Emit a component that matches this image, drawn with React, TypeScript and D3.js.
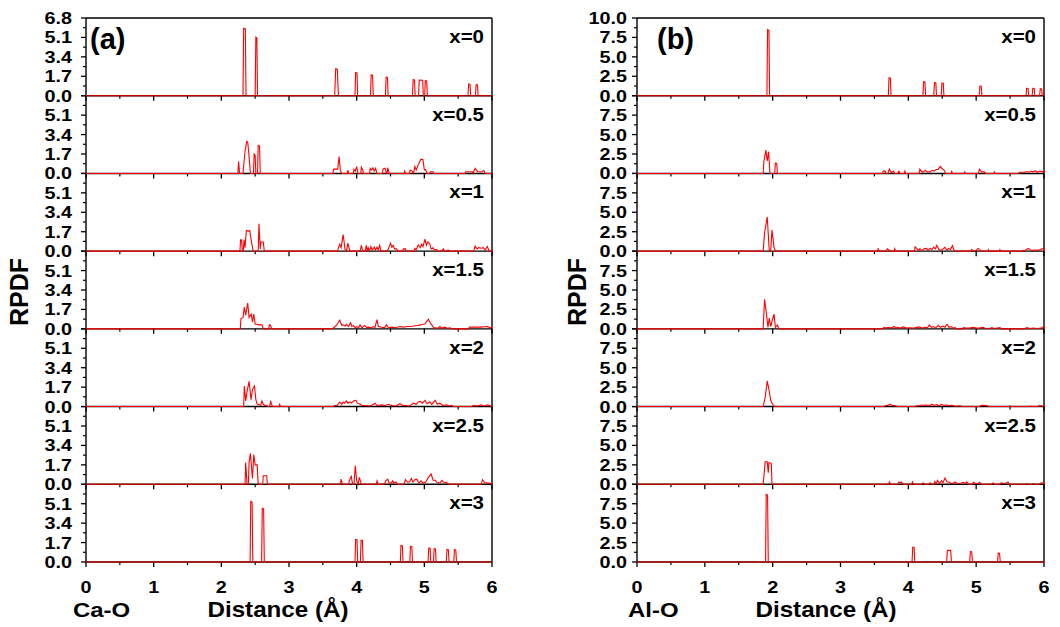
import React from "react";
import * as d3 from "d3";

type P = [number, number];

const compositions = ["x=0", "x=0.5", "x=1", "x=1.5", "x=2", "x=2.5", "x=3"];
const xTicks = [0, 1, 2, 3, 4, 5, 6];
const xMinorTicks = [0.5, 1.5, 2.5, 3.5, 4.5, 5.5];
const caTicks = [0, 1.7, 3.4, 5.1, 6.8];
const alTicks = [0, 2.5, 5.0, 7.5, 10.0];

// Ca-O RPDF
const caO_0: P[] = [
  [2.32, 0], [2.33, 5.9], [2.355, 5.85], [2.365, 0],
  [2.5, 0], [2.51, 5.12], [2.525, 5.05], [2.535, 0],
  [3.675, 0], [3.69, 2.35], [3.715, 2.3], [3.73, 0],
  [3.975, 0], [3.985, 2.03], [4.005, 2.0], [4.015, 0],
  [4.205, 0], [4.215, 1.83], [4.235, 1.8], [4.245, 0],
  [4.425, 0], [4.435, 1.63], [4.455, 1.6], [4.465, 0],
  [4.825, 0], [4.835, 1.4], [4.855, 1.38], [4.865, 0],
  [4.915, 0], [4.925, 1.37], [4.975, 1.35], [4.985, 0],
  [5.005, 0], [5.015, 1.31], [5.035, 1.29], [5.045, 0],
  [5.645, 0], [5.655, 1.02], [5.675, 1.0], [5.685, 0],
  [5.755, 0], [5.765, 0.96], [5.785, 0.94], [5.795, 0],
];
const caO_05: P[] = [
  [2.245, 0], [2.255, 1.05], [2.27, 0],
  [2.32, 0], [2.335, 1.0], [2.35, 1.9], [2.375, 2.8], [2.39, 2.75], [2.405, 1.8], [2.43, 0],
  [2.475, 0], [2.485, 1.7], [2.5, 1.6], [2.51, 0],
  [2.535, 0], [2.545, 2.45], [2.565, 2.4], [2.575, 0],
  [3.65, 0], [3.66, 0.38], [3.72, 0.38], [3.74, 1.48], [3.76, 0.2], [3.78, 0],
  [3.86, 0], [3.87, 0.3], [3.88, 0],
  [3.95, 0], [3.96, 0.35], [3.98, 0.2], [4.0, 0.6], [4.02, 0],
  [4.06, 0], [4.07, 0.55], [4.09, 0.3], [4.1, 0],
  [4.19, 0], [4.2, 0.45], [4.22, 0.3], [4.24, 0.5], [4.26, 0.2], [4.28, 0.45], [4.3, 0],
  [4.38, 0], [4.39, 0.4], [4.42, 0.45], [4.44, 0], [4.45, 0], [4.46, 0.5], [4.48, 0],
  [4.7, 0], [4.71, 0.2], [4.72, 0],
  [4.78, 0], [4.79, 0.3], [4.82, 0.2], [4.84, 0], [4.86, 0.6], [4.88, 0.3], [4.92, 0.9], [4.95, 1.25], [4.98, 1.2], [5.0, 0.3], [5.02, 0.35], [5.04, 0],
  [5.08, 0], [5.09, 0.15], [5.13, 0.15], [5.14, 0],
  [5.6, 0], [5.61, 0.15], [5.71, 0.15], [5.72, 0], [5.75, 0.45], [5.79, 0.15], [5.85, 0.15], [5.88, 0.25], [5.9, 0],
];
const caO_1: P[] = [
  [2.275, 0], [2.285, 1.0], [2.3, 1.0], [2.31, 0], [2.325, 0], [2.335, 1.0], [2.35, 0.3], [2.37, 1.8], [2.4, 1.75], [2.42, 1.8], [2.44, 1.0], [2.47, 0],
  [2.545, 0], [2.556, 2.4], [2.575, 0.2], [2.585, 0.8], [2.62, 0.8], [2.635, 0],
  [3.72, 0], [3.73, 0.3], [3.75, 0.6], [3.77, 0.3], [3.8, 1.45], [3.83, 0.1], [3.85, 0], [3.87, 0.7], [3.9, 0],
  [4.05, 0], [4.07, 0.5], [4.09, 0], [4.13, 0], [4.14, 0.5], [4.16, 0], [4.17, 0.3], [4.19, 0], [4.21, 0.4], [4.23, 0.1], [4.26, 0.35], [4.28, 0.1], [4.3, 0.35], [4.32, 0.1], [4.34, 0.5], [4.36, 0],
  [4.45, 0], [4.47, 0.2], [4.5, 0.7], [4.52, 0.35], [4.54, 0.5], [4.56, 0.2], [4.59, 0.2], [4.61, 0],
  [4.68, 0], [4.69, 0.2], [4.72, 0.2], [4.73, 0], [4.84, 0], [4.86, 0.25], [4.88, 0.1], [4.91, 0.55], [4.94, 0.3], [4.96, 0.6], [4.98, 0.4], [5.01, 1.05], [5.03, 0.5], [5.05, 0.8], [5.08, 0.65], [5.1, 0.2], [5.13, 0.3], [5.15, 0.1], [5.18, 0.15], [5.2, 0],
  [5.26, 0], [5.28, 0.2], [5.3, 0], [5.33, 0], [5.35, 0.1], [5.38, 0],
  [5.73, 0], [5.75, 0.45], [5.78, 0.2], [5.8, 0.3], [5.84, 0.25], [5.87, 0.3], [5.9, 0.1], [5.93, 0.4], [5.96, 0],
];
const caO_15: P[] = [
  [2.28, 0], [2.29, 0.9], [2.32, 1.0], [2.34, 1.9], [2.36, 1.2], [2.39, 2.25], [2.41, 1.0], [2.44, 1.3], [2.46, 0.6], [2.48, 1.3], [2.5, 0.4], [2.53, 0.4], [2.55, 0.35], [2.6, 0.35], [2.62, 0],
  [2.7, 0], [2.71, 0.35], [2.73, 0.3], [2.74, 0],
  [3.64, 0], [3.66, 0.1], [3.7, 0.3], [3.75, 0.75], [3.78, 0.3], [3.8, 0.35], [3.83, 0.25], [3.85, 0.4], [3.88, 0.2], [3.91, 0.55], [3.93, 0.2], [3.95, 0.3], [3.98, 0.1], [4.0, 0.2], [4.03, 0.1], [4.05, 0.35], [4.08, 0.1], [4.12, 0.3], [4.15, 0.1], [4.17, 0.15], [4.22, 0.1], [4.24, 0.2], [4.27, 0.1], [4.3, 0.8], [4.32, 0.2], [4.34, 0.2], [4.38, 0.1], [4.42, 0.15], [4.44, 0.35], [4.47, 0.1], [4.52, 0.15], [4.58, 0.1], [4.64, 0.2], [4.7, 0.15], [4.74, 0.2], [4.8, 0.2], [4.84, 0.25], [4.9, 0.3], [4.94, 0.35], [4.98, 0.4], [5.01, 0.45], [5.04, 0.7], [5.06, 0.85], [5.09, 0.5], [5.11, 0.35], [5.14, 0.1], [5.16, 0.1], [5.2, 0.05], [5.23, 0.2], [5.26, 0.05], [5.3, 0.15], [5.34, 0.05], [5.38, 0.1], [5.41, 0],
  [5.65, 0], [5.67, 0.15], [5.82, 0.15], [5.94, 0.2], [5.97, 0.1], [6.0, 0.15],
];
const caO_2: P[] = [
  [2.33, 0], [2.34, 1.8], [2.36, 0.5], [2.38, 1.3], [2.41, 2.2], [2.44, 0.6], [2.46, 1.5], [2.49, 1.8], [2.51, 0.6], [2.53, 0.2], [2.55, 0.2], [2.58, 0.1], [2.6, 0.5], [2.62, 0.2], [2.65, 0.1], [2.67, 0.1], [2.69, 0], [2.71, 0], [2.73, 0.45], [2.75, 0.05], [2.77, 0],
  [2.85, 0], [2.86, 0.2], [2.88, 0],
  [3.66, 0], [3.67, 0.1], [3.71, 0.1], [3.75, 0.4], [3.78, 0.2], [3.8, 0.4], [3.82, 0.3], [3.85, 0.5], [3.87, 0.3], [3.9, 0.4], [3.92, 0.3], [3.96, 0.5], [3.99, 0.55], [4.01, 0.3], [4.05, 0.2], [4.08, 0.1], [4.14, 0.1], [4.2, 0.05], [4.25, 0.2], [4.27, 0.3], [4.3, 0.1], [4.37, 0.15], [4.42, 0.1], [4.47, 0.2], [4.52, 0.1], [4.58, 0.05], [4.64, 0.25], [4.68, 0.1], [4.72, 0.1], [4.78, 0.05], [4.84, 0.3], [4.88, 0.2], [4.91, 0.4], [4.94, 0.45], [4.97, 0.3], [5.01, 0.55], [5.04, 0.25], [5.08, 0.4], [5.11, 0.2], [5.16, 0.55], [5.19, 0.2], [5.23, 0.3], [5.27, 0.1], [5.33, 0.15], [5.37, 0.05], [5.4, 0.1], [5.43, 0],
  [5.7, 0], [5.72, 0.1], [5.78, 0.05], [5.84, 0.15], [5.88, 0.05], [5.94, 0.15], [5.98, 0.05],
];
const caO_25: P[] = [
  [2.35, 0], [2.36, 1.9], [2.38, 0], [2.4, 0], [2.41, 1.9], [2.43, 2.7], [2.46, 0.5], [2.48, 2.6], [2.5, 1.7], [2.53, 1.7], [2.545, 0],
  [2.61, 0], [2.62, 0.75], [2.67, 0.75], [2.68, 0],
  [3.76, 0], [3.77, 0.45], [3.79, 0],
  [3.88, 0], [3.89, 0.3], [3.92, 0.7], [3.94, 0], [3.96, 0], [3.98, 1.65], [4.0, 0.3], [4.02, 0], [4.04, 0.6], [4.07, 0],
  [4.29, 0], [4.3, 0.3], [4.32, 0],
  [4.41, 0], [4.43, 0.3], [4.46, 0.45], [4.48, 0.1], [4.51, 0.1], [4.53, 0.3], [4.55, 0.1], [4.58, 0.2], [4.6, 0],
  [4.7, 0], [4.72, 0.4], [4.75, 0.2], [4.78, 0.2], [4.81, 0.5], [4.83, 0.2], [4.86, 0.4], [4.89, 0.45], [4.92, 0.1], [4.95, 0.3], [4.98, 0.1], [5.02, 0.2], [5.06, 0.6], [5.1, 0.9], [5.13, 0.35], [5.16, 0.35], [5.19, 0.15], [5.23, 0.1], [5.26, 0.35], [5.29, 0.15], [5.33, 0.15], [5.36, 0],
  [5.84, 0], [5.86, 0.4], [5.89, 0.15], [5.93, 0.1], [5.96, 0.1],
];
const caO_3: P[] = [
  [2.425, 0], [2.435, 5.3], [2.455, 5.25], [2.465, 0],
  [2.595, 0], [2.605, 4.7], [2.625, 4.65], [2.635, 0],
  [3.975, 0], [3.985, 1.98], [4.005, 1.95], [4.015, 0],
  [4.055, 0], [4.065, 1.9], [4.085, 1.88], [4.095, 0],
  [4.645, 0], [4.655, 1.45], [4.675, 1.43], [4.685, 0],
  [4.785, 0], [4.795, 1.37], [4.815, 1.35], [4.825, 0],
  [5.055, 0], [5.065, 1.22], [5.085, 1.2], [5.095, 0],
  [5.135, 0], [5.145, 1.17], [5.165, 1.15], [5.175, 0],
  [5.325, 0], [5.335, 1.1], [5.355, 1.08], [5.365, 0],
  [5.435, 0], [5.445, 1.08], [5.465, 1.06], [5.475, 0],
];

// Al-O RPDF
const alO_0: P[] = [
  [1.915, 0], [1.925, 8.5], [1.945, 8.4], [1.955, 0],
  [3.705, 0], [3.715, 2.3], [3.735, 2.25], [3.745, 0],
  [4.215, 0], [4.225, 1.8], [4.245, 1.78], [4.255, 0],
  [4.375, 0], [4.385, 1.7], [4.405, 1.68], [4.415, 0],
  [4.485, 0], [4.495, 1.62], [4.515, 1.6], [4.525, 0],
  [5.045, 0], [5.055, 1.24], [5.075, 1.22], [5.085, 0],
  [5.735, 0], [5.745, 0.94], [5.765, 0.92], [5.775, 0],
  [5.825, 0], [5.835, 0.94], [5.855, 0.92], [5.865, 0],
  [5.935, 0], [5.945, 0.9], [5.965, 0.88], [5.975, 0],
];
const alO_05: P[] = [
  [1.86, 0], [1.87, 1.5], [1.9, 3.0], [1.92, 1.6], [1.94, 2.8], [1.96, 0],
  [2.03, 0], [2.04, 1.35], [2.06, 1.3], [2.07, 0],
  [3.62, 0], [3.63, 0.3], [3.66, 0.3], [3.67, 0], [3.7, 0], [3.72, 0.55], [3.75, 0.1], [3.78, 0.3], [3.8, 0], [3.84, 0], [3.86, 0.3], [3.88, 0], [3.94, 0], [3.95, 0.3], [3.96, 0],
  [4.16, 0], [4.17, 0.55], [4.2, 0.2], [4.22, 0.2], [4.25, 0.4], [4.28, 0.2], [4.32, 0.2], [4.35, 0.4], [4.38, 0.3], [4.41, 0.5], [4.44, 0.5], [4.47, 0.9], [4.5, 0.6], [4.53, 0.4], [4.55, 0],
  [4.63, 0], [4.64, 0.25], [4.65, 0], [4.82, 0], [4.83, 0.2], [4.84, 0],
  [5.03, 0], [5.05, 0.55], [5.08, 0.2], [5.12, 0.2], [5.14, 0], [5.26, 0], [5.27, 0.2], [5.28, 0],
  [5.62, 0], [5.64, 0.15], [5.72, 0.15], [5.75, 0.25], [5.78, 0.15], [5.81, 0.3], [5.84, 0.2], [5.87, 0.35], [5.9, 0.15], [5.94, 0.3], [5.97, 0.2], [6.0, 0.3],
];
const alO_1: P[] = [
  [1.86, 0], [1.88, 2.3], [1.92, 4.4], [1.95, 0], [1.97, 0], [1.99, 2.7], [2.02, 0.5], [2.04, 0],
  [3.54, 0], [3.555, 0.3], [3.57, 0], [3.67, 0], [3.69, 0.3], [3.71, 0.2], [3.73, 0], [3.79, 0], [3.8, 0.3], [3.81, 0],
  [4.09, 0], [4.1, 0.55], [4.13, 0.3], [4.15, 0.1], [4.17, 0.3], [4.2, 0.1], [4.23, 0.3], [4.27, 0.35], [4.29, 0.1], [4.32, 0.35], [4.35, 0.2], [4.37, 0.5], [4.4, 0.3], [4.42, 0.75], [4.45, 0.2], [4.47, 0.1], [4.5, 0.2], [4.54, 0.5], [4.57, 0.1], [4.59, 0.35], [4.62, 0.2], [4.65, 0.7], [4.68, 0],
  [4.92, 0], [4.93, 0.2], [4.96, 0.05], [5.0, 0.1], [5.03, 0.35], [5.06, 0.1], [5.09, 0], [5.17, 0], [5.18, 0.2], [5.19, 0], [5.34, 0], [5.35, 0.2], [5.36, 0],
  [5.66, 0], [5.69, 0.1], [5.73, 0.15], [5.77, 0.35], [5.8, 0.15], [5.84, 0.1], [5.87, 0.15], [5.91, 0.1], [5.95, 0.2], [5.99, 0.35], [6.0, 0.3],
];
const alO_15: P[] = [
  [1.86, 0], [1.88, 3.8], [1.91, 1.8], [1.93, 0.2], [1.95, 1.4], [1.97, 0.3], [2.0, 1.3], [2.02, 1.9], [2.04, 0.2], [2.07, 0.5], [2.09, 0],
  [3.62, 0], [3.64, 0.2], [3.67, 0.1], [3.71, 0.2], [3.75, 0.1], [3.79, 0.3], [3.82, 0.1], [3.84, 0.2], [3.88, 0.1], [3.93, 0.25], [3.97, 0.1], [4.03, 0.15], [4.08, 0.1], [4.16, 0.25], [4.2, 0.1], [4.25, 0.2], [4.28, 0.1], [4.31, 0.5], [4.34, 0.2], [4.37, 0.3], [4.4, 0.1], [4.44, 0.45], [4.47, 0.2], [4.51, 0.35], [4.54, 0.2], [4.57, 0.6], [4.6, 0.2], [4.63, 0.3], [4.66, 0.1], [4.69, 0.15], [4.72, 0],
  [4.8, 0], [4.81, 0.15], [4.85, 0.1], [4.9, 0.1], [4.96, 0.2], [5.0, 0.1], [5.05, 0.1], [5.1, 0.2], [5.14, 0.05], [5.2, 0.05], [5.23, 0.15], [5.27, 0.05], [5.35, 0.15], [5.38, 0],
  [5.72, 0], [5.74, 0.15], [5.8, 0.05], [5.84, 0.1], [5.9, 0.05], [5.96, 0.1], [6.0, 0.35],
];
const alO_2: P[] = [
  [1.86, 0], [1.89, 1.2], [1.92, 3.3], [1.95, 2.0], [1.97, 0.8], [2.0, 0.3], [2.03, 0],
  [3.64, 0], [3.66, 0.1], [3.7, 0.15], [3.73, 0.3], [3.76, 0.15], [3.81, 0.1], [3.84, 0],
  [4.1, 0], [4.12, 0.1], [4.16, 0.1], [4.2, 0.2], [4.23, 0.15], [4.27, 0.2], [4.31, 0.1], [4.35, 0.3], [4.38, 0.15], [4.42, 0.25], [4.45, 0.1], [4.49, 0.3], [4.53, 0.15], [4.57, 0.2], [4.6, 0.1], [4.64, 0.15], [4.7, 0.05], [4.76, 0.1], [4.8, 0],
  [5.05, 0], [5.08, 0.15], [5.12, 0.15], [5.16, 0.1], [5.19, 0], [5.48, 0], [5.5, 0.1], [5.52, 0], [5.77, 0], [5.79, 0.05], [5.85, 0], [5.9, 0], [5.94, 0.15], [5.98, 0.05], [6.0, 0.1],
];
const alO_25: P[] = [
  [1.86, 0], [1.89, 2.9], [1.92, 2.9], [1.935, 1.5], [1.945, 2.8], [1.98, 2.7], [1.99, 0],
  [3.71, 0], [3.72, 0.3], [3.74, 0], [3.85, 0], [3.86, 0.3], [3.88, 0.2], [3.9, 0.3], [3.92, 0], [4.05, 0], [4.06, 0.3], [4.08, 0],
  [4.2, 0], [4.22, 0.2], [4.24, 0], [4.3, 0], [4.32, 0.2], [4.34, 0], [4.38, 0], [4.39, 0.35], [4.41, 0.1], [4.43, 0.5], [4.46, 0.1], [4.49, 0.45], [4.51, 0.2], [4.54, 0.8], [4.57, 0.3], [4.6, 0.3], [4.63, 0.1], [4.66, 0.15], [4.69, 0.3], [4.72, 0.1], [4.76, 0.1], [4.81, 0.25], [4.84, 0.1], [4.86, 0.3], [4.89, 0],
  [4.94, 0], [4.96, 0.25], [4.99, 0.1], [5.03, 0.1], [5.05, 0.25], [5.08, 0], [5.23, 0], [5.25, 0.2], [5.27, 0], [5.35, 0], [5.37, 0.2], [5.39, 0.1], [5.42, 0.1], [5.45, 0.2], [5.47, 0.3], [5.49, 0],
  [5.72, 0], [5.74, 0.1], [5.76, 0], [5.82, 0], [5.84, 0.1], [5.86, 0], [5.93, 0], [5.96, 0.2], [6.0, 0.15],
];
const alO_3: P[] = [
  [1.895, 0], [1.905, 8.7], [1.925, 8.6], [1.935, 0],
  [4.055, 0], [4.065, 1.9], [4.085, 1.88], [4.095, 0],
  [4.565, 0], [4.575, 1.5], [4.625, 1.5], [4.635, 0],
  [4.905, 0], [4.915, 1.35], [4.935, 1.3], [4.945, 0],
  [5.315, 0], [5.325, 1.15], [5.345, 1.1], [5.355, 0],
];

const caSeries = [caO_0, caO_05, caO_1, caO_15, caO_2, caO_25, caO_3];
const alSeries = [alO_0, alO_05, alO_1, alO_15, alO_2, alO_25, alO_3];

const FONT = "'Liberation Sans', Arial, Helvetica, sans-serif";
const TOP = 18;
const BOTTOM = 562;
const N = 7;
const SUBH = (BOTTOM - TOP) / N;

interface PanelCfg {
  x0: number;
  x1: number;
  ticks: number[];
  series: P[][];
  tag: string;
  tagX: number;
  pair: string;
  pairX: number;
  distX: number;
  rpdfX: number;
  labelGap: number;
}

const panels: PanelCfg[] = [
  { x0: 86, x1: 492, ticks: caTicks, series: caSeries, tag: "(a)", tagX: 90, pair: "Ca-O", pairX: 73, distX: 278, rpdfX: 19, labelGap: 14 },
  { x0: 637, x1: 1044, ticks: alTicks, series: alSeries, tag: "(b)", tagX: 657, pair: "Al-O", pairX: 628, distX: 826, rpdfX: 577, labelGap: 10 },
];

function Panel({ cfg }: { cfg: PanelCfg }) {
  const x = d3.scaleLinear().domain([0, 6]).range([cfg.x0, cfg.x1]);
  const yMax = cfg.ticks[cfg.ticks.length - 1];
  const minor = cfg.ticks.slice(1).map((t, i) => (t + cfg.ticks[i]) / 2);
  const items: React.ReactNode[] = [];
  cfg.series.forEach((s, i) => {
    const yTop = TOP + i * SUBH;
    const yBot = yTop + SUBH;
    const y = d3.scaleLinear().domain([0, yMax]).range([yBot, yTop]);
    const pts: P[] = [[0, 0], ...s, [6, 0]];
    const line = d3.line<P>().x((d) => x(d[0])).y((d) => y(d[1]));
    // y ticks
    cfg.ticks.forEach((t, j) => {
      items.push(<line key={`yt${i}-${j}`} x1={cfg.x0 - 5} x2={cfg.x0} y1={y(t)} y2={y(t)} stroke="#000" strokeWidth={1.3} />);
      if (j < cfg.ticks.length - 1 || i === 0) {
        items.push(
          <text key={`yl${i}-${j}`} transform={`translate(${cfg.x0 - cfg.labelGap},${y(t)}) scale(1.2,1)`} textAnchor="end" dy="0.36em" fontSize={16.5} fontWeight="bold" fontFamily={FONT}>
            {t.toFixed(1)}
          </text>
        );
      }
    });
    minor.forEach((t, j) => {
      items.push(<line key={`ym${i}-${j}`} x1={cfg.x0 - 3} x2={cfg.x0} y1={y(t)} y2={y(t)} stroke="#000" strokeWidth={1.2} />);
    });
    // x ticks
    xTicks.forEach((t) => {
      items.push(<line key={`xt${i}-${t}`} x1={x(t)} x2={x(t)} y1={yBot} y2={yBot + 5} stroke="#000" strokeWidth={1.3} />);
    });
    xMinorTicks.forEach((t) => {
      items.push(<line key={`xm${i}-${t}`} x1={x(t)} x2={x(t)} y1={yBot} y2={yBot + 3} stroke="#000" strokeWidth={1.2} />);
    });
    // frame
    items.push(<line key={`fb${i}`} x1={cfg.x0} x2={cfg.x1} y1={yBot} y2={yBot} stroke="#000" strokeWidth={1.4} />);
    // curve
    items.push(<path key={`c${i}`} d={line(pts) || ""} fill="none" stroke="#ff0000" strokeWidth={1.1} strokeLinejoin="miter" />);
    // composition label
    items.push(
      <text key={`cl${i}`} transform={`translate(${cfg.x1 - 8},${yTop + 25}) scale(1.17,1)`} textAnchor="end" fontSize={17.5} fontWeight="bold" fontFamily={FONT}>
        {compositions[i]}
      </text>
    );
  });
  return (
    <g>
      <line x1={cfg.x0} x2={cfg.x1} y1={TOP} y2={TOP} stroke="#000" strokeWidth={1.4} />
      <line x1={cfg.x0} x2={cfg.x0} y1={TOP} y2={BOTTOM} stroke="#000" strokeWidth={1.4} />
      <line x1={cfg.x1} x2={cfg.x1} y1={TOP} y2={BOTTOM} stroke="#000" strokeWidth={1.4} />
      {items}
      {xTicks.map((t) => (
        <text key={`xl${t}`} transform={`translate(${x(t)},593) scale(1.2,1)`} textAnchor="middle" fontSize={16.5} fontWeight="bold" fontFamily={FONT}>
          {t}
        </text>
      ))}
      <text x={cfg.tagX} y={49} fontSize={29} fontWeight="bold" fontFamily={FONT}>
        {cfg.tag}
      </text>
      <text transform={`translate(${cfg.pairX},617) scale(1.14,1)`} fontSize={21} fontWeight="bold" fontFamily={FONT}>
        {cfg.pair}
      </text>
      <text transform={`translate(${cfg.distX},617) scale(1.1,1)`} textAnchor="middle" fontSize={22} fontWeight="bold" fontFamily={FONT}>
        Distance (Å)
      </text>
      <text transform={`translate(${cfg.rpdfX},292) rotate(-90)`} textAnchor="middle" dy="0.36em" fontSize={25} fontWeight="bold" fontFamily={FONT}>
        RPDF
      </text>
    </g>
  );
}

export default function App() {
  return (
    <svg width={1060} height={627} viewBox="0 0 1060 627" style={{ position: "absolute", left: 0, top: 0, background: "#fff" }}>
      <rect width={1060} height={627} fill="#fff" />
      {panels.map((p, i) => (
        <Panel key={i} cfg={p} />
      ))}
    </svg>
  );
}
